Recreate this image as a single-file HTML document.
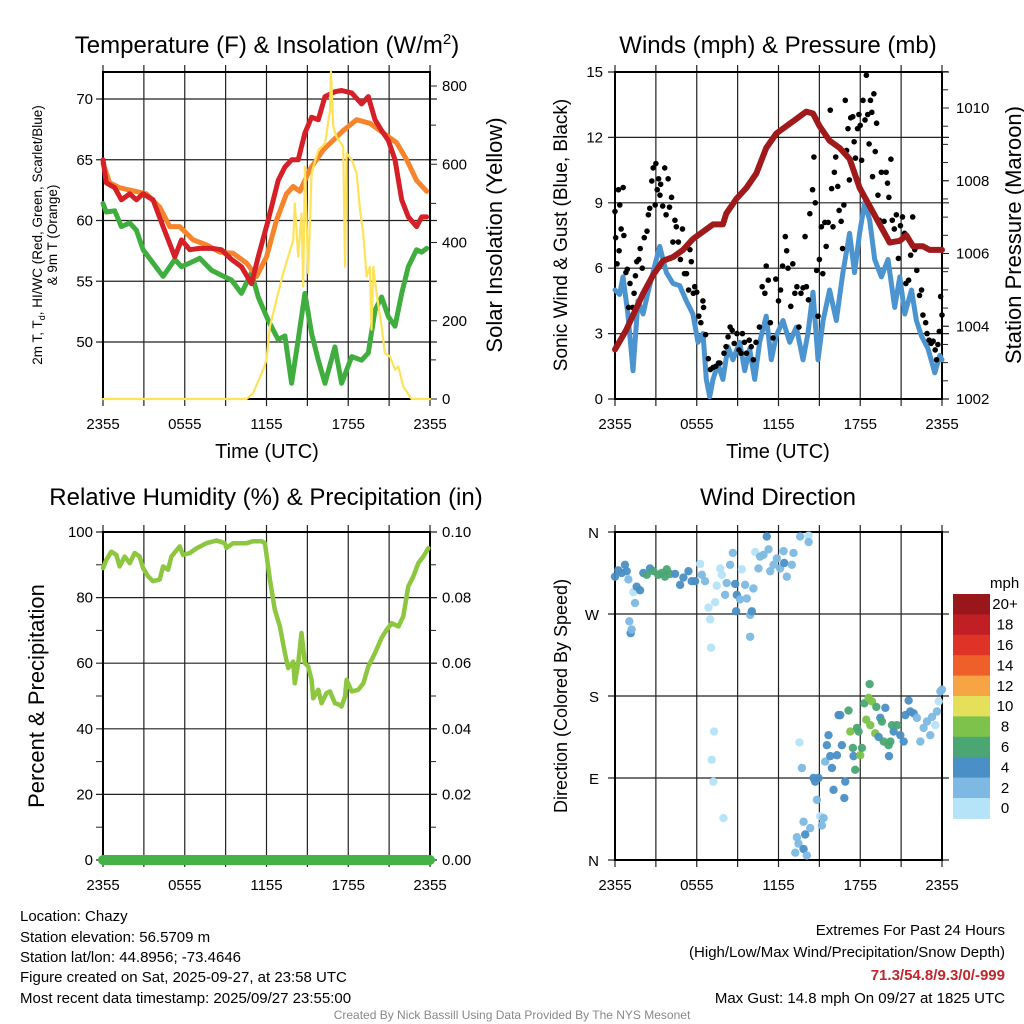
<!DOCTYPE html>
<html><head><meta charset="utf-8">
<style>
html,body{margin:0;padding:0;background:#fff;}
svg{display:block;font-family:"Liberation Sans",Arial,sans-serif;}
</style></head>
<body>
<svg id="chart" width="1024" height="1024" viewBox="0 0 1024 1024" xmlns="http://www.w3.org/2000/svg">
<rect width="1024" height="1024" fill="#fff"/>
<g id="layer"></g>
<text x="267" y="53" font-size="24" text-anchor="middle">Temperature (F) &amp; Insolation (W/m<tspan font-size="15" dy="-9">2</tspan><tspan dy="9">)</tspan></text>
<text x="778" y="53" font-size="24" text-anchor="middle">Winds (mph) &amp; Pressure (mb)</text>
<text x="266" y="505" font-size="24" text-anchor="middle">Relative Humidity (%) &amp; Precipitation (in)</text>
<text x="778" y="505" font-size="24" text-anchor="middle">Wind Direction</text>
<text x="267" y="458" font-size="20" text-anchor="middle">Time (UTC)</text>
<text x="778" y="458" font-size="20" text-anchor="middle">Time (UTC)</text>
<text transform="translate(42,235) rotate(-90)" font-size="13.5" text-anchor="middle">2m T, T<tspan font-size="9" dy="3">d</tspan><tspan dy="-3">, HI/WC (Red, Green, Scarlet/Blue)</tspan></text>
<text transform="translate(57,235) rotate(-90)" font-size="13.5" text-anchor="middle">&amp; 9m T (Orange)</text>
<text transform="translate(502,235) rotate(-90)" font-size="22" text-anchor="middle">Solar Insolation (Yellow)</text>
<text transform="translate(567,235) rotate(-90)" font-size="19" text-anchor="middle">Sonic Wind &amp; Gust (Blue, Black)</text>
<text transform="translate(1021,235) rotate(-90)" font-size="22" text-anchor="middle">Station Pressure (Maroon)</text>
<text transform="translate(44,696) rotate(-90)" font-size="22" text-anchor="middle">Percent &amp; Precipitation</text>
<text transform="translate(567,696) rotate(-90)" font-size="18" text-anchor="middle">Direction (Colored By Speed)</text>
<text x="990" y="588" font-size="15">mph</text>
<g font-size="15">
<text x="20" y="921">Location: Chazy</text>
<text x="20" y="942">Station elevation: 56.5709 m</text>
<text x="20" y="962">Station lat/lon: 44.8956; -73.4646</text>
<text x="20" y="982">Figure created on Sat, 2025-09-27, at 23:58 UTC</text>
<text x="20" y="1003">Most recent data timestamp: 2025/09/27 23:55:00</text>
</g>
<g font-size="15" text-anchor="end">
<text x="1005" y="935">Extremes For Past 24 Hours</text>
<text x="1005" y="957">(High/Low/Max Wind/Precipitation/Snow Depth)</text>
<text x="1005" y="980" fill="#c1272d" font-weight="bold">71.3/54.8/9.3/0/-999</text>
<text x="1005" y="1003">Max Gust: 14.8 mph On 09/27 at 1825 UTC</text>
</g>
<text x="512" y="1019" font-size="12" fill="#888" text-anchor="middle">Created By Nick Bassill Using Data Provided By The NYS Mesonet</text>
</svg>
<script>
// ---------- DATA ----------
const xTickLabels = ["2355","0555","1155","1755","2355"];
const tempTickLabels = ["50","55","60","65","70"];
const solarTickLabels = ["0","200","400","600","800"];
const windTickLabels = ["0","3","6","9","12","15"];
const presTickLabels = ["1002","1004","1006","1008","1010"];
const rhTickLabels = ["0","20","40","60","80","100"];
const precipTickLabels = ["0.00","0.02","0.04","0.06","0.08","0.10"];
const dirTickLabels = ["N","E","S","W","N"];
const speedBinLabels = ["0","2","4","6","8","10","12","14","16","18","20+"];

const tempHours = [0,0.24,0.86,1.35,1.96,2.45,2.94,3.67,4.41,5.27,5.76,6.37,7.1,7.96,8.69,9.43,10.16,10.9,11.39,12.12,12.86,13.35,13.84,14.33,14.82,15.31,15.8,16.29,17.02,17.51,18.25,18.98,19.47,19.96,20.45,20.94,21.43,21.92,22.41,23.02,23.39,23.76];
const tempRed = [65.0,63.1,62.7,61.7,62.2,61.7,62.2,61.7,59.5,57.0,58.4,57.6,57.7,57.7,57.6,56.8,56.2,54.8,57.0,60.0,63.3,64.4,65.0,65.0,67.2,68.5,68.3,70.2,70.6,70.7,70.5,69.6,70.2,68.3,67.4,66.6,65.0,61.7,60.3,59.5,60.3,60.3];
const orangeHours = [0,0.49,1.22,1.96,3.18,4.16,4.9,5.63,6.61,7.59,8.57,9.55,10.53,11.27,12.0,12.73,13.47,13.96,14.45,15.18,16.16,17.63,18.61,19.59,20.57,21.55,22.29,23.02,23.76];
const tempOrange = [64.7,63.1,62.7,62.5,62.2,61.1,59.5,59.5,58.4,58.0,57.4,57.3,56.5,55.4,57.0,60.0,62.2,62.8,62.4,64.2,65.8,67.4,68.3,68.0,67.2,66.4,65.0,63.3,62.4];
const dewHours = [0,0.49,0.98,1.47,2.2,2.94,3.67,4.41,4.9,5.63,6.12,7.1,8.08,8.82,9.55,10.53,11.27,11.76,12.25,12.73,13.22,13.71,14.08,14.33,14.57,14.82,14.94,15.43,15.8,16.05,16.41,16.78,17.27,17.76,18.0,18.37,18.74,19.23,19.71,20.2,20.94,21.67,22.41,22.9,23.27,23.76];
const tempDew = [61.4,60.7,60.8,59.5,59.8,59.2,57.6,56.5,55.4,56.8,56.2,56.5,56.9,55.9,55.5,55.1,54.0,55.7,53.7,51.8,50.2,50.5,46.6,50.2,54.0,50.7,48.5,46.6,49.6,46.6,48.8,48.5,49.1,52.6,53.7,52.1,51.3,54.0,56.2,57.6,57.4,57.7,58.4,58.0,58.3,58.7];
const solarHours = [0,10.53,11.02,11.76,12.0,12.25,12.73,13.22,13.96,14.08,14.33,14.57,14.69,14.82,15.06,15.31,15.8,16.29,16.66,16.73,16.9,17.14,17.63,17.76,17.88,18.25,18.61,18.86,19.1,19.35,19.59,19.71,19.84,20.08,20.45,20.69,21.06,21.43,21.67,22.04,22.65,24];
const solarW = [0,0,15,75,100,185,253,321,406,500,364,474,287,594,321,577,636,653,738,836,696,670,645,338,628,611,577,483,423,313,338,177,338,270,185,117,109,75,83,32,0,0];

const presHours = [0,0.83,1.32,2.06,2.79,3.52,4.26,4.99,5.72,6.46,7.19,7.92,8.17,8.9,9.64,10.37,11.1,11.84,12.57,13.31,14.04,14.53,15.02,15.75,16.49,17.22,17.96,18.69,19.43,20.16,20.9,21.39,21.87,22.6,23.09,24];
const presMb = [1003.36,1003.9,1004.3,1004.9,1005.4,1005.8,1005.9,1006.1,1006.4,1006.6,1006.8,1006.8,1007.1,1007.5,1007.8,1008.2,1008.9,1009.3,1009.5,1009.7,1009.9,1009.85,1009.5,1009.1,1008.9,1008.6,1007.8,1007.3,1006.8,1006.3,1006.35,1006.5,1006.2,1006.2,1006.1,1006.1];
const windHours = [0,0.34,0.59,0.95,1.32,1.69,2.06,2.42,2.79,3.28,3.77,4.26,4.75,5.23,5.72,6.09,6.46,6.7,6.95,7.19,7.56,7.92,8.29,8.65,9.15,9.52,9.88,10.25,10.61,11.1,11.47,11.84,12.33,12.82,13.31,13.8,14.16,14.53,14.9,15.27,15.75,16.24,16.73,17.22,17.58,17.95,18.32,18.69,19.06,19.55,20.04,20.53,20.9,21.27,21.76,22.12,22.49,22.98,23.47,23.84,24];
const windMph = [5.0,4.8,5.6,3.9,1.3,4.5,3.9,4.9,5.8,7.0,5.8,5.3,5.2,4.5,3.9,2.6,3.0,0.9,0.1,0.9,1.6,0.9,2.4,1.8,2.6,1.3,2.3,0.9,2.6,3.8,1.8,2.9,3.6,2.6,3.3,1.8,3.0,4.9,1.8,3.6,5.0,3.6,5.8,7.6,5.8,7.6,9.0,8.2,6.4,5.6,6.4,4.2,5.6,3.9,5.0,3.6,2.9,2.3,1.2,2.0,1.8];
const gustHours = [0,0.05,0.15,0.25,0.35,0.3,0.45,0.6,0.65,0.8,0.9,1.0,1.1,1.3,1.4,1.5,1.6,1.75,1.85,2.0,2.15,2.35,2.45,2.55,2.7,2.8,3.0,2.95,3.1,3.2,3.3,3.35,3.5,3.65,3.75,3.9,4.0,4.15,4.25,4.4,4.5,4.65,4.8,4.95,5.1,5.25,5.4,5.5,5.6,5.75,5.85,6.0,6.15,6.3,6.45,6.5,6.65,6.85,7.0,7.2,7.4,7.6,7.7,8.0,8.15,8.3,8.45,8.6,8.75,8.95,9.1,9.25,9.35,9.5,9.65,9.85,10.0,10.15,10.35,10.6,10.8,11.0,11.1,11.25,11.4,11.6,11.8,12.0,12.15,12.3,12.5,12.6,12.7,12.9,13.05,13.2,13.35,13.5,13.65,13.8,13.95,14.05,14.2,14.3,14.5,14.6,14.7,14.8,14.9,15.0,15.15,15.25,15.4,15.5,15.65,15.8,15.9,16.0,16.1,16.2,16.35,16.45,16.6,16.7,16.8,16.9,17.0,17.1,17.2,17.3,17.45,17.55,17.65,17.8,17.9,18.0,18.1,18.2,18.35,18.45,18.55,18.65,18.75,18.85,18.9,19.0,19.1,19.2,19.3,19.4,19.55,19.75,19.9,20.0,20.1,20.25,20.35,20.5,20.65,20.8,20.95,21.1,21.25,21.35,21.55,21.7,21.85,22.0,22.15,22.35,22.5,22.6,22.8,22.9,23.05,23.2,23.35,23.5,23.6,23.7,23.8,23.9,24.0];
const gustMph = [8.6,7.4,6.2,9.6,8.9,6.8,7.8,9.7,7.5,5.8,5.95,4.2,5.3,4.2,4.85,5.65,6.3,6.4,6.9,6.0,7.4,7.7,8.45,8.75,10.0,10.6,10.8,8.9,9.6,10.1,9.35,9.85,8.85,10.6,8.45,10.1,8.8,9.25,7.2,8.2,7.9,7.2,6.4,7.8,5.75,5.75,5.0,6.85,6.3,4.85,5.15,4.9,3.8,3.5,4.5,4.2,2.95,1.85,1.35,1.45,1.5,1.65,1.65,2.1,2.4,2.85,3.3,3.15,2.55,3.0,2.25,2.1,3.0,2.6,2.1,2.7,2.4,1.8,2.6,3.3,5.15,4.85,6.1,5.45,3.5,2.8,5.5,4.5,5.0,6.1,7.45,6.8,6.0,4.25,6.2,4.85,5.15,3.3,4.85,5.1,7.45,5.15,4.55,8.5,9.6,11.1,9.0,5.9,3.8,6.4,7.9,5.75,8.1,7.0,8.1,13.25,9.65,7.9,10.4,11.1,9.75,8.65,8.15,6.9,8.9,13.7,11.4,12.4,10.05,12.9,12.95,11.8,11.05,12.4,13.05,12.55,10.95,13.7,12.8,14.85,13.05,11.7,13.7,13.15,10.2,14.0,11.35,12.65,9.35,8.2,10.4,8.15,10.4,9.9,9.25,11.0,8.2,7.8,8.45,6.45,7.95,8.35,7.6,5.3,5.45,6.6,8.35,6.85,5.9,4.75,5.0,3.85,3.5,3.0,2.7,2.55,2.65,2.25,1.8,2.5,3.1,4.7,3.85];

const rhHours = [0,0.24,0.61,0.98,1.22,1.59,1.96,2.33,2.69,2.94,3.31,3.67,4.16,4.41,4.78,5.02,5.63,5.88,6.37,6.86,7.59,8.33,8.94,9.06,9.55,10.53,11.02,11.63,11.88,12.25,12.61,12.98,13.35,13.59,13.96,14.08,14.33,14.57,14.82,15.06,15.31,15.43,15.8,16.04,16.41,16.66,17.02,17.27,17.51,17.76,17.88,18.25,18.74,19.11,19.47,19.96,20.45,20.82,21.19,21.68,22.04,22.41,22.78,23.14,23.51,23.88];
const rhPct = [89,91.5,94,93,89.5,92.5,90.5,93.6,92.5,89,86.5,85,85.5,89.5,88.5,92.5,95.6,93,93.6,95,96.6,97.4,96.6,95.1,96.6,96.6,97.2,97.2,96.6,85.5,76.3,71.2,63.1,58.5,60.5,53.9,60,69.2,60,59,54.9,49.3,51.9,47.8,50.9,51.4,47.8,47.5,46.8,49.8,54.9,51.4,51.9,53.9,59,63.1,67.7,70.2,72.2,71.2,74.3,83.4,86.5,90.5,92.5,95.1];
const precipHours = [0,24];
const precipIn = [0,0];

const dirHours = [0,0.24,0.49,0.73,0.86,0.98,1.35,1.59,1.84,1.47,1.05,1.15,1.22,2.08,2.33,2.57,2.82,3.18,3.43,3.67,3.8,4.04,4.41,4.78,5.02,5.39,5.63,5.88,6.25,6.37,6.61,6.86,6.98,7.05,7.27,7.1,7.22,7.96,7.35,7.47,7.72,7.84,8.08,8.2,8.45,8.65,8.82,8.94,8.89,9.18,9.31,9.55,9.67,9.92,10.04,9.92,10.16,10.29,10.53,10.65,10.9,11.14,11.27,11.39,11.63,11.88,12.12,12.37,12.42,12.61,12.98,13.1,13.59,14.21,14.21,13.54,13.72,14.57,14.69,14.82,15.06,15.19,15.31,13.84,14.33,13.96,13.35,13.47,13.23,13.84,14.08,14.94,15.43,15.55,15.67,15.8,15.92,16.04,16.29,16.41,16.53,16.65,16.9,16.83,17.14,17.27,17.46,17.51,17.76,17.88,18.0,18.12,18.3,18.44,18.61,18.69,18.74,18.86,19.1,19.18,19.35,19.47,19.59,19.72,19.84,20.08,20.21,20.33,20.45,20.7,20.94,21.19,21.31,21.55,21.67,21.92,22.16,22.41,22.65,22.9,23.14,23.27,23.51,23.63,23.76,23.88,24.0,20.11,17.63];
const dirDeg = [311,318,315,324,317,308,294,300,296,282,262,249,253,315,313,320,317,313,315,311,319,314,314,302,310,317,306,306,325,313,306,277,264,233,141,110,86,46,283,301,320,313,291,304,324,337,303,291,273,286,319,302,287,269,273,245,298,338,320,333,335,355,341,317,324,331,320,339,326,311,324,337,355,356,349,129,101,90,86,66,48,38,46,42,35,28,25,18,8,12,5,90,108,126,137,114,101,77,115,159,159,126,86,68,164,141,123,114,145,141,115,123,172,154,178,193,148,174,139,168,135,156,152,130,167,126,130,148,141,148,137,130,159,175,163,161,156,130,145,152,137,157,148,163,174,185,187,114,99];
const dirSpeed = [5,5,5,5,5,3,1,5,5,3,3,5,3,5,7,5,7,7,7,7,7,7,5,5,5,5,5,5,1,3,3,1,1,1,1,1,1,1,1,1,1,1,3,3,3,3,5,5,5,3,1,3,3,3,5,3,3,1,3,3,3,5,3,3,3,3,3,3,5,3,3,3,3,1,3,1,3,5,5,3,1,3,3,3,3,5,3,3,3,5,3,5,3,5,5,5,5,5,5,5,5,5,5,5,7,9,7,5,7,7,9,7,7,9,9,7,9,9,9,7,5,5,7,7,5,7,7,7,5,7,5,5,5,5,5,5,3,3,3,3,3,3,1,3,1,3,3,5,7];

const speedColors = ["#b5e3f7","#7db9e2","#4a8fc6","#4aa774","#7cc24b","#e5e05a","#f6a444","#ef5f2a","#df3328","#c11f26","#99161a"];

// ---------- DRAWING ----------
const NS="http://www.w3.org/2000/svg";
const layer=document.getElementById('layer');
function mk(tag,attrs,parent){const e=document.createElementNS(NS,tag);for(const k in attrs)e.setAttribute(k,attrs[k]);(parent||layer).appendChild(e);return e;}
function scale(d0,d1,r0,r1){return v=>r0+(v-d0)/(d1-d0)*(r1-r0);}

function frame(name,x0,x1,y0,y1,hTicks,vTicks){
  const g=mk('g',{});
  
  
  hTicks.forEach(y=>{const l=mk('line',{x1:x0-7,x2:x1+7,y1:y,y2:y,stroke:'#222','stroke-width':1.2},g);});
  vTicks.forEach(x=>{const l=mk('line',{x1:x,x2:x,y1:y0-7,y2:y1+7,stroke:'#222','stroke-width':1.2},g);});
  const r=mk('rect',{x:x0,y:y0,width:x1-x0,height:y1-y0,fill:'none',stroke:'#000','stroke-width':2},g);
  
  
  return g;
}
function txt(s,x,y,size,anchor,name){const t=mk('text',{x:x,y:y,'font-size':size,'text-anchor':anchor||'middle'});t.textContent=s;return t;}
function line(xs,ys,sx,sy,color,w,name){
  let d='';for(let i=0;i<xs.length;i++){d+=(i?'L':'M')+sx(xs[i]).toFixed(1)+','+sy(ys[i]).toFixed(1);}
  const p=mk('path',{d:d,fill:'none',stroke:color,'stroke-width':w,'stroke-linejoin':'round','stroke-linecap':'round'});
  
  
  return p;
}
function xAxis(x0,x1,yLab,name){
  const sx=scale(0,24,x0,x1);
  xTickLabels.forEach((s,i)=>txt(s,sx(i*6),yLab,15,'middle',name+'-x-tick-'+i));
}
function minor(x,ys,name){ys.forEach(y=>{const l=mk('line',{x1:x,x2:x+6,y1:y,y2:y,stroke:'#222','stroke-width':1});});}

// Panel 1
(function(){
  const x0=103,x1=430,y0=72,y1=399;
  const sx=scale(0,24,x0,x1), st=scale(50,70,342,99), ss=scale(0,800,399,86);
  const vt=[];for(let i=0;i<=8;i++)vt.push(sx(i*3));
  frame('temp-panel',x0,x1,y0,y1,[st(50),st(55),st(60),st(65),st(70)],vt);
  tempTickLabels.forEach(s=>txt(s,x0-10,st(+s)+5,15,'end','temp-y-tick'));
  solarTickLabels.forEach(s=>{txt(s,x1+12,ss(+s)+5,15,'start','solar-y-tick');const l=mk('line',{x1:x1,x2:x1+7,y1:ss(+s),y2:ss(+s),stroke:'#222'});});
  const mn=[];for(let v=100;v<=800;v+=200)mn.push(ss(v));minor(x1,mn,'solar-minor-tick');
  xAxis(x0,x1,429,'temp');
  line(tempHours,tempDew,sx,st,'#3fae3f',5,'dewpoint-line');
  line(orangeHours,tempOrange,sx,st,'#f5842c',5,'temp-9m-line');
  line(tempHours,tempRed,sx,st,'#d62027',5,'temp-2m-line');
  line(solarHours,solarW,sx,ss,'#fde25a',2.2,'solar-line');
})();

// Panel 2
(function(){
  const x0=615,x1=942,y0=72,y1=399;
  const sx=scale(0,24,x0,x1), sw=scale(0,15,399,72), sp=scale(1002,1010,399,108);
  const vt=[];for(let i=0;i<=8;i++)vt.push(sx(i*3));
  frame('wind-panel',x0,x1,y0,y1,windTickLabels.map(s=>sw(+s)),vt);
  windTickLabels.forEach(s=>txt(s,x0-12,sw(+s)+5,15,'end','wind-y-tick'));
  presTickLabels.forEach(s=>{txt(s,x1+14,sp(+s)+5,15,'start','pressure-y-tick');const l=mk('line',{x1:x1,x2:x1+7,y1:sp(+s),y2:sp(+s),stroke:'#222'});});
  const mn=[];for(let v=1002.5;v<=1011;v+=0.5)mn.push(sp(v));minor(x1,mn,'pressure-minor-tick');
  xAxis(x0,x1,429,'wind');
  line(windHours,windMph,sx,sw,'#4b94cf',5,'sonic-wind-line');
  const g=mk('g',{});
  
  
  gustHours.forEach((h,i)=>{const c=mk('circle',{cx:sx(h),cy:sw(gustMph[i]),r:2.8,fill:'#000'},g);});
  line(presHours,presMb,sx,sp,'#a01a1c',6,'pressure-line');
})();

// Panel 3
(function(){
  const x0=103,x1=430,y0=532,y1=860;
  const sx=scale(0,24,x0,x1), sr=scale(0,100,860,532), sp=scale(0,0.1,860,532);
  const vt=[];for(let i=0;i<=8;i++)vt.push(sx(i*3));
  frame('rh-panel',x0,x1,y0,y1,rhTickLabels.map(s=>sr(+s)),vt);
  rhTickLabels.forEach(s=>txt(s,x0-10,sr(+s)+5,15,'end','rh-y-tick'));
  precipTickLabels.forEach(s=>{txt(s,x1+12,sp(+s)+5,15,'start','precip-y-tick');const l=mk('line',{x1:x1,x2:x1+7,y1:sp(+s),y2:sp(+s),stroke:'#222'});});
  const mn=[];for(let v=10;v<100;v+=20)mn.push(sr(v));minor(x1,mn,'precip-minor-tick');minor(x0-7,mn,'rh-minor-tick');
  xAxis(x0,x1,890,'rh');
  line(rhHours,rhPct,sx,sr,'#8dc63f',4.5,'rh-line');
  line(precipHours,precipIn,sx,sp,'#45b248',10,'precip-line');
})();

// Panel 4
(function(){
  const x0=615,x1=942,y0=532,y1=860;
  const sx=scale(0,24,x0,x1), sd=scale(0,360,860,532);
  const vt=[];for(let i=0;i<=8;i++)vt.push(sx(i*3));
  frame('direction-panel',x0,x1,y0,y1,dirTickLabels.map((s,i)=>sd(i*90)),vt);
  dirTickLabels.forEach((s,i)=>txt(s,x0-16,sd(i*90)+6,15,'end','direction-y-tick'));
  xAxis(x0,x1,890,'direction');
  const g=mk('g',{});
  
  
  dirHours.forEach((h,i)=>{
    const bin=Math.min(10,Math.floor(dirSpeed[i]/2));
    const c=mk('circle',{cx:sx(h),cy:sd(dirDeg[i]),r:4.2,fill:speedColors[bin],'fill-opacity':0.95},g);
    
    
  });
  // colorbar
  const cb=mk('g',{});
  
  
  const top=594,bh=20.4;
  for(let k=0;k<11;k++){
    const idx=10-k;
    const r=mk('rect',{x:953,y:top+k*bh,width:37,height:bh+0.5,fill:speedColors[idx]},cb);
    
    
    txt(speedBinLabels[idx],1005,top+k*bh+bh/2+5,15,'middle','colorbar-label');
  }
})();
</script>
</body></html>
